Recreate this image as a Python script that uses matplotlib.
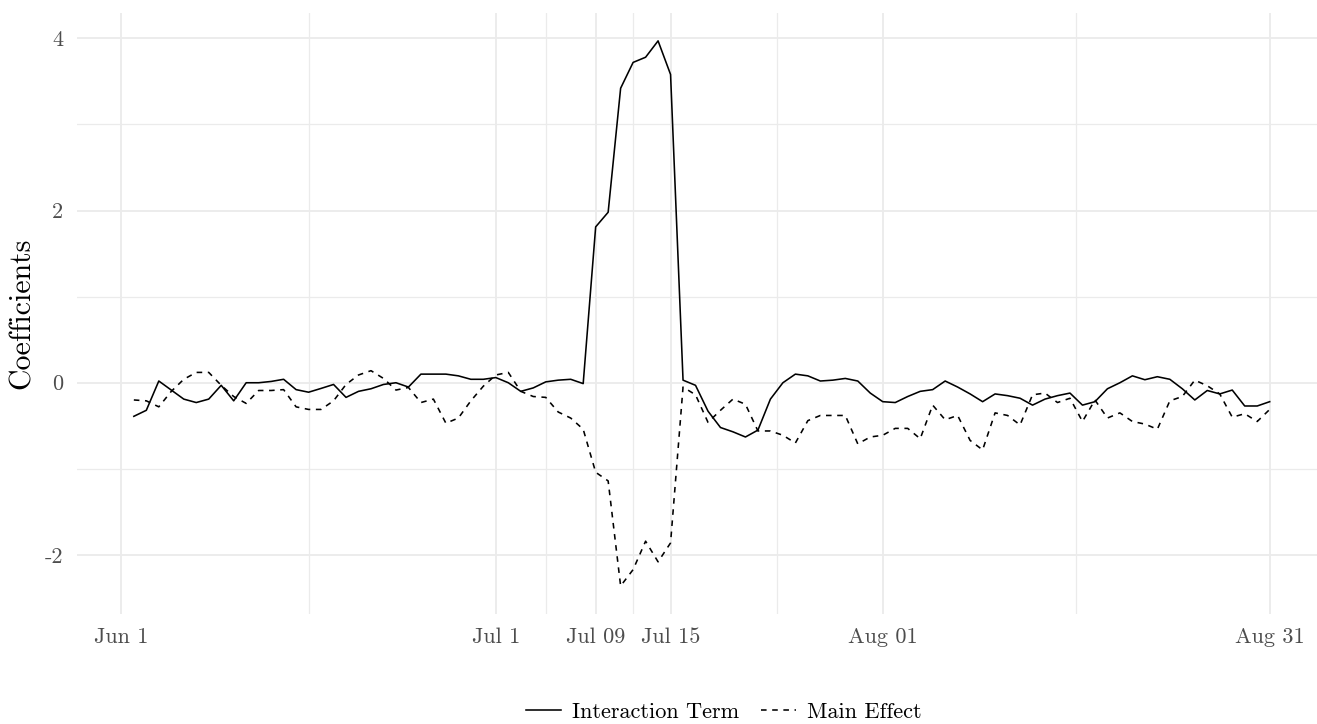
import numpy as np
import matplotlib
matplotlib.use("Agg")
import matplotlib.pyplot as plt
from matplotlib.ticker import FixedLocator, FixedFormatter

# day index counted from Jun 1 (day 0)
days = np.arange(1, 93)

interaction = [
    -0.39, -0.32, 0.02, -0.085, -0.19, -0.23, -0.19, -0.03, -0.21, 0.00,
    0.00, 0.015, 0.04, -0.08, -0.11, -0.066, -0.02, -0.17, -0.10, -0.07,
    -0.02, 0.00, -0.05, 0.10, 0.10, 0.10, 0.08, 0.04, 0.04, 0.06,
    0.00, -0.10, -0.06, 0.01, 0.03, 0.04, -0.01, 1.81, 1.98, 3.42,
    3.72, 3.78, 3.97, 3.58, 0.03, -0.03, -0.33, -0.52, -0.57, -0.63,
    -0.55, -0.19, 0.00, 0.10, 0.08, 0.02, 0.03, 0.05, 0.02, -0.12,
    -0.22, -0.23, -0.16, -0.10, -0.08, 0.02, -0.05, -0.13, -0.22, -0.13,
    -0.15, -0.18, -0.26, -0.19, -0.15, -0.12, -0.26, -0.22, -0.07, 0.00,
    0.08, 0.035, 0.07, 0.04, -0.07, -0.20, -0.09, -0.13, -0.085, -0.27,
    -0.27, -0.22,
]

main_effect = [
    -0.20, -0.21, -0.28, -0.10, 0.04, 0.12, 0.12, -0.03, -0.16, -0.24,
    -0.09, -0.09, -0.08, -0.28, -0.31, -0.31, -0.21, -0.02, 0.09, 0.14,
    0.05, -0.085, -0.055, -0.23, -0.19, -0.47, -0.41, -0.21, -0.04, 0.09,
    0.12, -0.10, -0.16, -0.17, -0.34, -0.41, -0.54, -1.04, -1.14, -2.36,
    -2.17, -1.84, -2.08, -1.86, -0.05, -0.14, -0.46, -0.32, -0.19, -0.25,
    -0.56, -0.56, -0.61, -0.70, -0.44, -0.38, -0.38, -0.38, -0.71, -0.63,
    -0.61, -0.53, -0.53, -0.65, -0.26, -0.43, -0.38, -0.67, -0.78, -0.35,
    -0.38, -0.49, -0.14, -0.12, -0.23, -0.18, -0.45, -0.20, -0.41, -0.35,
    -0.45, -0.48, -0.54, -0.21, -0.16, 0.03, -0.035, -0.13, -0.40, -0.36,
    -0.45, -0.31,
]

x_breaks = [0, 30, 38, 44, 61, 92]
x_labels = ["Jun 1", "Jul 1", "Jul 09", "Jul 15", "Aug 01", "Aug 31"]
y_breaks = [-2, 0, 2, 4]
y_labels = ["-2", "0", "2", "4"]

plt.rcParams["font.family"] = ["cmr10", "DejaVu Serif"]
plt.rcParams["axes.unicode_minus"] = False

fig = plt.figure(figsize=(13.17, 7.24), dpi=100)
ax = fig.add_axes([0.0585, 0.1526, 0.9487, 0.829])

ax.plot(days, interaction, color="black", lw=1.15, label="Interaction Term")
ax.plot(days, main_effect, color="black", lw=1.15, dashes=(3.5, 3.5), label="Main Effect")

ax.set_xlim(-3.55, 96.55)
ax.set_ylim(-2.68, 4.29)

# major breaks plus minor breaks halfway between them
x_minor = [(a + b) / 2 for a, b in zip(x_breaks[:-1], x_breaks[1:])]
y_minor = [-1, 1, 3]
ax.xaxis.set_major_locator(FixedLocator(x_breaks))
ax.xaxis.set_major_formatter(FixedFormatter(x_labels))
ax.xaxis.set_minor_locator(FixedLocator(x_minor))
ax.yaxis.set_major_locator(FixedLocator(y_breaks))
ax.yaxis.set_major_formatter(FixedFormatter(y_labels))
ax.yaxis.set_minor_locator(FixedLocator(y_minor))

ax.grid(which="major", color="#EBEBEB", lw=1.3)
ax.grid(which="minor", color="#EBEBEB", lw=0.9)
ax.set_axisbelow(True)
for s in ax.spines.values():
    s.set_visible(False)
ax.tick_params(which="both", length=0)
ax.tick_params(axis="x", labelsize=16, labelcolor="#4D4D4D", pad=10)
ax.tick_params(axis="y", labelsize=16, labelcolor="#4D4D4D", pad=10)

ax.set_ylabel("Coefficients", fontsize=21.5, labelpad=6)

fig.legend(loc="center", bbox_to_anchor=(724 / 1317, 1 - 712 / 724), ncol=2,
           frameon=False, fontsize=16, handlelength=1.55, columnspacing=1.0,
           handletextpad=0.5)

fig.savefig("out.png", dpi=100)
